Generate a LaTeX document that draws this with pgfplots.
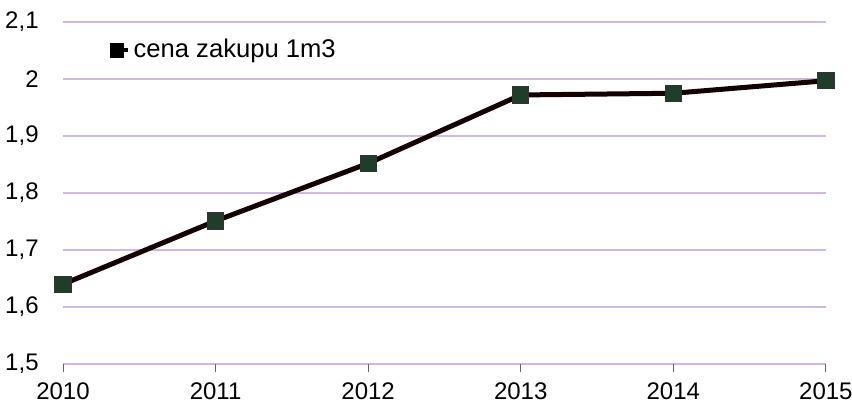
\documentclass[border=0pt]{standalone}
\usepackage{pgfplots}
\pgfplotsset{compat=1.18}
\usepackage{fontspec}
\setmainfont{Liberation Sans}
\definecolor{gridc}{RGB}{205,185,225}
\definecolor{markc}{RGB}{30,62,42}
\begin{document}
\fontsize{12}{14}\selectfont
\begin{tikzpicture}
\path[use as bounding box] (0,0) rectangle (426pt,203.5pt);
\begin{axis}[
  at={(31.5pt,21.5pt)}, anchor=south west,
  scale only axis, width=381.5pt, height=171pt,
  xmin=2010, xmax=2015, ymin=1.5, ymax=2.1,
  axis line style={draw=none},
  tick pos=left,
  ymajorgrids, grid style={gridc, line width=0.8pt},
  xtick={2010,...,2015}, ytick={1.5,1.6,...,2.1},
  tick align=outside, major tick length=4pt,
  ytick style={draw=none},
  xtick style={black!60, line width=0.5pt},
  xticklabel style={font=\fontsize{12}{14}\selectfont, /pgf/number format/1000 sep={}, /pgf/number format/assume math mode=true, yshift=-1pt},
  yticklabel style={font=\fontsize{12}{14}\selectfont, /pgf/number format/use comma, /pgf/number format/fixed, /pgf/number format/precision=1, /pgf/number format/assume math mode=true, xshift=-4pt},
  clip=false,
  legend style={draw=none, fill=none, at={(0.058,0.918)}, anchor=west, font=\fontsize{12.8}{15}\selectfont, inner sep=0pt},
  legend cell align=left,
  legend image code/.code={\draw[black, line width=2pt] (0pt,0pt) -- (9pt,0pt); \fill[black] (1.5pt,-2.5pt) rectangle (6pt,2.5pt);},
]
\addplot[black!92!red, line width=2.5pt, mark=square*, mark size=4pt, mark options={fill=markc, draw=black!80, line width=0.6pt}]
  coordinates {(2010,1.64) (2011,1.751) (2012,1.852) (2013,1.972) (2014,1.975) (2015,1.997)};
\addlegendentry{cena zakupu 1m3}
\end{axis}
\end{tikzpicture}
\end{document}
